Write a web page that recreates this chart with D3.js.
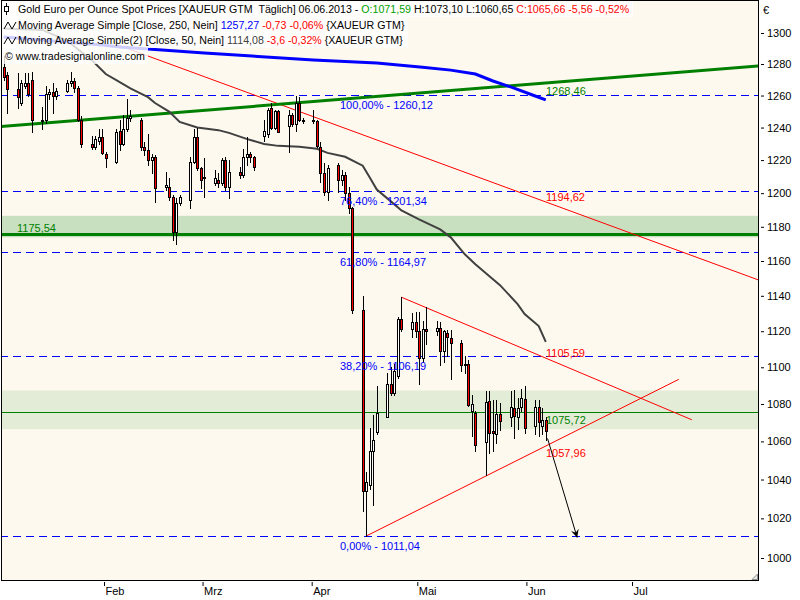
<!DOCTYPE html>
<html>
<head>
<meta charset="utf-8">
<title>Gold Euro per Ounce</title>
<script src="https://cdn.jsdelivr.net/npm/d3@7"></script>
<style>
    body { margin: 0; background: #ffffff; }
    text { font-family: "Liberation Sans", Arial, sans-serif; font-size: 11px; }
</style>
</head>
<body>
<div id="canvas"></div>
<script>
"use strict"

/* Daily candles XAUEUR */
let dates = [
    "2013-01-03","2013-01-04","2013-01-07","2013-01-08","2013-01-09","2013-01-10","2013-01-11",
    "2013-01-14","2013-01-15","2013-01-16","2013-01-17","2013-01-18","2013-01-21","2013-01-22",
    "2013-01-23","2013-01-24","2013-01-25","2013-01-28","2013-01-29","2013-01-30","2013-01-31",
    "2013-02-01","2013-02-04","2013-02-05","2013-02-06","2013-02-07","2013-02-08","2013-02-11",
    "2013-02-12","2013-02-13","2013-02-14","2013-02-15","2013-02-18","2013-02-19","2013-02-20",
    "2013-02-21","2013-02-22","2013-02-25","2013-02-26","2013-02-27","2013-02-28",
    "2013-03-01","2013-03-04","2013-03-05","2013-03-06","2013-03-07","2013-03-08","2013-03-11",
    "2013-03-12","2013-03-13","2013-03-14","2013-03-15","2013-03-18","2013-03-19","2013-03-20",
    "2013-03-21","2013-03-22","2013-03-25","2013-03-26","2013-03-27","2013-03-28","2013-03-29",
    "2013-04-01","2013-04-02","2013-04-03","2013-04-04","2013-04-05","2013-04-08","2013-04-09",
    "2013-04-10","2013-04-11","2013-04-12","2013-04-15","2013-04-16","2013-04-17","2013-04-18",
    "2013-04-19","2013-04-22","2013-04-23","2013-04-24","2013-04-25","2013-04-26","2013-04-29",
    "2013-04-30","2013-05-01","2013-05-02","2013-05-03","2013-05-06","2013-05-07","2013-05-08",
    "2013-05-09","2013-05-10","2013-05-13","2013-05-14","2013-05-15","2013-05-16","2013-05-17",
    "2013-05-20","2013-05-21","2013-05-22","2013-05-23","2013-05-24","2013-05-27","2013-05-28",
    "2013-05-29","2013-05-30","2013-05-31","2013-06-03","2013-06-04","2013-06-05","2013-06-06"
];
let opens = [
    1278,1273,1264,1255,1266,1268,1270, 1244,1245,1261,1262,1260,1263,1268,
    1269,1265,1245,1230,1228,1232,1234, 1224,1219,1238,1230,1239,1246,1245,
    1228,1226,1220,1222,1204,1204,1198, 1177,1194,1196,1219,1234,1215,
    1209,1206,1208,1206,1220,1204,1213, 1211,1222,1224,1222,1235,1236,1252,
    1240,1250,1241,1248,1242,1255,1245, 1245,1244,1228,1212,1201,1217,1208,
    1211,1200,1191,1132,1034,1037,1055, 1065,1073,1091,1086,1095,1127,1121,
    1125,1120,1105,1121.5,1120,1122,1109, 1119,1116,1113.5,1101,1102,1076,1075,
    1059.6,1081.6,1065.4,1064,1074.6,1073,1078, 1073,1078.3,1082.5,1068,1078.5,1068,1071.59
];
let highs = [
    1285,1275,1274,1270,1274,1274,1275, 1253,1266,1264,1268,1265,1270,1275,
    1271,1266,1247,1235,1235,1239,1239, 1225,1239,1245,1248,1258,1251,1246,
    1231,1236,1224,1223,1213,1209,1199, 1197,1199,1222,1239,1240,1215.5,
    1221,1214,1212,1221,1222,1220,1216, 1227,1234,1225,1222.5,1245,1252,1255,
    1251,1251,1251,1249,1260,1259,1246, 1251,1245,1231,1218,1217,1218,1214,
    1213,1204,1192,1140,1044,1067,1074, 1090,1097,1100,1102,1128,1139.2,1130,
    1131,1131,1126,1133.5,1126,1125,1120.5, 1120.5,1120.5,1115,1106,1104,1085,1076,
    1087.3,1087.3,1082,1082,1080.5,1087,1087.7, 1083.5,1088,1089.5,1082,1082,1078,1073.10
];
let lows = [
    1270,1249,1252,1254,1265,1260,1237, 1239,1243,1258,1249,1258,1262,1266,
    1262,1244,1228,1227,1227,1230,1224, 1216,1218,1226,1229,1238,1244,1226,
    1223,1217,1212,1195,1202,1196,1172, 1170,1193,1191,1218,1214,1203,
    1198,1205,1204,1205,1202,1197,1209, 1210,1217,1219,1214,1232,1234,1239,
    1239,1237,1225,1241,1238,1244,1243, 1243,1228,1207,1199,1196,1201,1205,
    1196,1188,1130,1024,1011.04,1035,1027, 1064,1073,1085,1085,1094,1120,1117,
    1117,1091,1103,1113,1118,1101,1103, 1106,1093.5,1098,1097,1079,1063,1055,
    1042.4,1053.7,1055,1059,1066,1068,1062, 1066.5,1076,1064.5,1064,1063,1064,1060.65
];
let closes = [
    1272,1264,1259,1268,1268,1261,1245, 1245,1261,1262,1260,1263,1268,1269,
    1265,1245,1230,1228,1233,1234,1224.5, 1221,1237,1230,1239,1246,1247,1228,
    1226,1220,1222,1203,1205,1198,1177, 1194,1198,1219,1234,1215,1208,
    1209.5,1209,1206,1220,1204,1213,1211, 1222,1224,1222,1216,1238,1251,1240,
    1250,1237.5,1248,1242,1255,1245,1244.5, 1244,1228.5,1212,1201,1215,1208,1211,
    1200,1191,1132,1034,1038.5,1055,1061, 1075,1091,1086,1098,1127,1121,1125,
    1120,1105,1121,1120,1122,1109,1120, 1116.5,1113.5,1101,1102,1079.5,1080,1058,
    1081,1064.5,1064.2,1074.6,1071,1078.3,1073.3, 1078,1083,1067,1078.5,1070.4,1071.22,1065.66
];

/* Moving Average Simple 250 (blue) and 50 (grey) */
let ma250Dates = ["2013-01-03","2013-01-31","2013-02-05","2013-03-01","2013-04-01","2013-04-19",
    "2013-05-02","2013-05-10","2013-05-17","2013-05-22","2013-05-28","2013-06-03","2013-06-06"];
let ma250Values = [1297.4,1292.2,1290.9,1287.1,1282.5,1280.6,1278,1276.1,1273.6,1269.2,1264.7,1259.7,1257.27];

let ma50Dates = ["2013-01-03","2013-01-14","2013-01-21","2013-01-28","2013-02-01","2013-02-04",
    "2013-02-08","2013-02-13","2013-02-15","2013-02-19","2013-02-22","2013-02-27","2013-03-05",
    "2013-03-08","2013-03-13","2013-03-18","2013-03-22","2013-03-28","2013-04-02","2013-04-05",
    "2013-04-10","2013-04-15","2013-04-17","2013-04-19","2013-04-24","2013-04-26","2013-05-01",
    "2013-05-07","2013-05-10","2013-05-14","2013-05-17","2013-05-21","2013-05-24","2013-05-29",
    "2013-05-31","2013-06-04","2013-06-06"];
let ma50Values = [1303,1302,1295,1282.5,1273.6,1269.8,1264.5,1259,1255.3,1249.9,1243.5,1240,1238.4,
    1236.7,1233,1229.9,1228.7,1228.1,1226.9,1224.4,1222,1216.6,1209.4,1202.2,1193.3,1189.7,1184.4,
    1178.5,1173.8,1163.9,1158.1,1151.2,1146.1,1135.3,1129.7,1122.9,1114.08];

/* Fibonacci retracement 1011,04 -> 1260,12 */
let fibLevels = [1260.12, 1201.34, 1164.97, 1106.19, 1011.04];
let fibNames = ["100,00%", "76,40%", "61,80%", "38,20%", "0,00%"];

/* Horizontal zones with their centre lines */
let zoneLows = [1173.8, 1066.5];
let zoneHighs = [1186.5, 1087.3];
let zoneLines = [1175.54, 1075.72];

/* Trend lines: [date, price] pairs */
let greenTrend = [["2013-01-02 00:00", 1240.5], ["2013-08-06 00:00", 1278.8]];
let redTrend = [["2013-02-05 00:00", 1292.2], ["2013-08-06 00:00", 1149.0]];
let triangleTop = [["2013-04-26 12:00", 1139.2], ["2013-07-18 00:00", 1071.5]];
let triangleBottom = [["2013-04-16 12:00", 1011.04], ["2013-07-14 07:00", 1093.4]];
let arrowLine = [["2013-06-07 00:00", 1061.6], ["2013-06-15 10:00", 1010.3]];

/* Values printed at the end of the lines */
let endValues = [1268.46, 1194.62, 1105.59, 1075.72, 1057.96];

/* Axes */
let yTickValues = [1000,1020,1040,1060,1080,1100,1120,1140,1160,1180,1200,1220,1240,1260,1280,1300];
let monthDates = ["2013-02-01","2013-03-01","2013-04-01","2013-05-01","2013-06-01","2013-07-01"];
let monthNames = ["Feb", "Mrz", "Apr", "Mai", "Jun", "Jul"];


let svgWidth = 800;
let svgHeight = 600;
let plotRight = 758;
let plotBottom = 580;

let colRed = "#ff0000";
let colBlue = "#0000ff";
let colGreen = "#008000";

let parseDay = d3.timeParse("%Y-%m-%d");
let parseTime = d3.timeParse("%Y-%m-%d %H:%M");

let locale = d3.formatLocale({decimal: ",", thousands: ".", grouping: [3], currency: ["", ""], minus: "-"});
let fmt2 = locale.format(".2f");

let xScale = d3.scaleTime()
    .domain([parseTime("2013-01-02 11:00"), parseTime("2013-08-05 19:00")])
    .range([0, plotRight]);

// price axis is logarithmic
let yScale = d3.scaleLog()
    .domain([1000, 1300])
    .range([558, 33]);

function dayCenter(s) {
    return xScale(d3.timeHour.offset(parseDay(s), 12));
}

let svg = d3.select("#canvas")
    .append("svg")
    .attr("width", svgWidth)
    .attr("height", svgHeight);

svg.append("rect")
    .attr("width", svgWidth)
    .attr("height", svgHeight)
    .attr("fill", "#ffffff");

svg.append("rect")
    .attr("x", 1).attr("y", 1)
    .attr("width", plotRight - 1).attr("height", plotBottom - 1)
    .attr("fill", "#fdf9ee");

let defs = svg.append("defs");
defs.append("clipPath").attr("id", "plotClip")
    .append("rect")
    .attr("x", 1).attr("y", 1)
    .attr("width", plotRight - 1).attr("height", plotBottom - 1);

defs.append("marker")
    .attr("id", "arrowHead")
    .attr("markerUnits", "userSpaceOnUse")
    .attr("markerWidth", 10).attr("markerHeight", 10)
    .attr("refX", 8).attr("refY", 4)
    .attr("orient", "auto")
    .append("path")
    .attr("d", "M0,0 L8,4 L0,8 L3,4 Z")
    .attr("fill", "#000000");

let g = svg.append("g").attr("clip-path", "url(#plotClip)");

// zones
for (let i = 0; i < zoneLows.length; i++) {
    let yTop = yScale(zoneHighs[i]);
    let yBot = yScale(zoneLows[i]);
    g.append("rect")
        .attr("x", 0).attr("width", plotRight)
        .attr("y", yTop).attr("height", yBot - yTop)
        .attr("fill", i === 0 ? "#c9e0c0" : "#e2ecd6");
}

// fibonacci dashed lines
for (let i = 0; i < fibLevels.length; i++) {
    let yy = Math.round(yScale(fibLevels[i])) + 0.5;
    g.append("line")
        .attr("x1", 0).attr("x2", plotRight)
        .attr("y1", yy).attr("y2", yy)
        .attr("stroke", colBlue)
        .attr("stroke-dasharray", "8,5")
        .attr("stroke-width", 1)
        .attr("shape-rendering", "crispEdges");
}

// zone centre lines
for (let i = 0; i < zoneLines.length; i++) {
    let yy = Math.round(yScale(zoneLines[i])) + 0.5;
    g.append("line")
        .attr("x1", 0).attr("x2", plotRight)
        .attr("y1", yy).attr("y2", yy)
        .attr("stroke", colGreen)
        .attr("stroke-width", i === 0 ? 3 : 1.2);
}

function drawSegment(pts, color, width) {
    return g.append("line")
        .attr("x1", xScale(parseTime(pts[0][0]))).attr("y1", yScale(pts[0][1]))
        .attr("x2", xScale(parseTime(pts[1][0]))).attr("y2", yScale(pts[1][1]))
        .attr("stroke", color)
        .attr("stroke-width", width);
}

drawSegment(redTrend, colRed, 1);
drawSegment(triangleTop, colRed, 1);
drawSegment(triangleBottom, colRed, 1);
drawSegment(greenTrend, colGreen, 3);

// moving averages
let maLine = d3.line()
    .x(function(d) { return dayCenter(d[0]); })
    .y(function(d) { return yScale(d[1]); });

g.append("path")
    .attr("d", maLine(d3.zip(ma50Dates, ma50Values)))
    .attr("fill", "none")
    .attr("stroke", "#404040")
    .attr("stroke-width", 2);

g.append("path")
    .attr("d", maLine(d3.zip(ma250Dates, ma250Values)))
    .attr("fill", "none")
    .attr("stroke", "#0000ff")
    .attr("stroke-width", 3);

// candles
let candles = g.append("g").attr("shape-rendering", "crispEdges");
for (let i = 0; i < dates.length; i++) {
    let xc = Math.round(dayCenter(dates[i]));
    let yHigh = Math.round(yScale(highs[i]));
    let yLow = Math.round(yScale(lows[i]));
    let yTop = Math.round(yScale(Math.max(opens[i], closes[i])));
    let yBot = Math.round(yScale(Math.min(opens[i], closes[i])));
    let down = closes[i] < opens[i];

    candles.append("line")
        .attr("x1", xc + 0.5).attr("x2", xc + 0.5)
        .attr("y1", yHigh).attr("y2", yLow + 1)
        .attr("stroke", "#000000");

    candles.append("rect")
        .attr("x", xc - 0.5)
        .attr("y", yTop + 0.5)
        .attr("width", 2)
        .attr("height", Math.max(1, yBot - yTop))
        .attr("fill", down ? colRed : "#ffffff")
        .attr("stroke", "#000000");
}

// arrow
drawSegment(arrowLine, "#000000", 1).attr("marker-end", "url(#arrowHead)");

// fibonacci labels
for (let i = 0; i < fibLevels.length; i++) {
    g.append("text")
        .attr("x", 340)
        .attr("y", yScale(fibLevels[i]) + 14)
        .attr("fill", colBlue)
        .text(fibNames[i] + " - " + fmt2(fibLevels[i]));
}

g.append("text")
    .attr("x", 17)
    .attr("y", yScale(zoneLines[0]) - 2)
    .attr("fill", colGreen)
    .text(fmt2(zoneLines[0]));

// values at the end of the lines
let endColors = [colGreen, colRed, colRed, colGreen, colRed];
let endOffsets = [13, -1, 0, 12, 12];
for (let i = 0; i < endValues.length; i++) {
    g.append("text")
        .attr("x", 546)
        .attr("y", yScale(endValues[i]) + endOffsets[i])
        .attr("fill", endColors[i])
        .text(fmt2(endValues[i]));
}

// plot frame
svg.append("rect")
    .attr("x", 1.5).attr("y", 0.5)
    .attr("width", plotRight - 1).attr("height", plotBottom)
    .attr("fill", "none")
    .attr("stroke", "#000000");

// resize corner
svg.append("path")
    .attr("d", "M" + (plotRight - 6) + "," + (plotBottom - 0.5) + " L" + (plotRight - 0.5) + "," + (plotBottom - 6) +
        " L" + (plotRight - 0.5) + "," + (plotBottom - 0.5) + " Z")
    .attr("fill", "#e8e8e8")
    .attr("stroke", "#909090");

// right price axis
let yAxis = d3.axisRight(yScale)
    .tickValues(yTickValues)
    .tickFormat(d3.format("d"))
    .tickSize(3)
    .tickPadding(3);

let yAxisG = svg.append("g")
    .attr("transform", "translate(761, 0)")
    .call(yAxis);
yAxisG.select(".domain").remove();
yAxisG.selectAll("text").attr("fill", "#000000");

svg.append("text")
    .attr("x", 763).attr("y", 14)
    .text("€");

// bottom time axis
let xAxis = d3.axisBottom(xScale)
    .tickValues(monthDates.map(parseDay))
    .tickFormat(function(d, i) { return monthNames[i]; })
    .tickSize(4);

let xAxisG = svg.append("g")
    .attr("transform", "translate(0, " + (plotBottom + 2) + ")")
    .call(xAxis);
xAxisG.select(".domain").remove();
xAxisG.selectAll("text")
    .attr("text-anchor", "start")
    .attr("x", 1)
    .attr("y", 5)
    .attr("fill", "#000000");

// header with legend
let last = dates.length - 1;
let change = closes[last] - closes[last - 1];
let changePct = change / closes[last - 1] * 100;

let header = svg.append("g");
header.append("rect").attr("x", 2).attr("y", 1).attr("width", 631).attr("height", 16)
    .attr("fill", "#ffffff").attr("opacity", 0.8);
header.append("rect").attr("x", 2).attr("y", 17).attr("width", 406).attr("height", 31)
    .attr("fill", "#ffffff").attr("opacity", 0.8);
header.append("rect").attr("x", 2).attr("y", 48).attr("width", 146).attr("height", 16)
    .attr("fill", "#ffffff").attr("opacity", 0.8);

// squeeze a header line to the width it has in the original
function fitLine(textSel, x, y, width) {
    let natural = textSel.node().getComputedTextLength();
    textSel.attr("transform", "translate(" + x + "," + y + ") scale(" + (width / natural) + ",1)");
}

let line1 = header.append("text").style("white-space", "pre");
line1.append("tspan").attr("fill", "#000000")
    .text("Gold Euro per Ounce Spot Prices [XAUEUR GTM  Täglich] 06.06.2013 - ");
line1.append("tspan").attr("fill", "#00a000").text("O:" + fmt2(opens[last]) + " ");
line1.append("tspan").attr("fill", "#000000")
    .text("H:" + fmt2(highs[last]) + " L:" + fmt2(lows[last]) + " ");
line1.append("tspan").attr("fill", colRed)
    .text("C:" + fmt2(closes[last]) + " " + fmt2(change) + " " + fmt2(changePct) + "%");
fitLine(line1, 18, 13, 612);

let line2 = header.append("text").style("white-space", "pre");
line2.append("tspan").attr("fill", "#000000").text("Moving Average Simple [Close, 250, Nein] ");
line2.append("tspan").attr("fill", "#0000ff").text(fmt2(ma250Values[ma250Values.length - 1]) + " ");
line2.append("tspan").attr("fill", colRed).text("-0,73 -0,06% ");
line2.append("tspan").attr("fill", "#000000").text("{XAUEUR GTM}");
fitLine(line2, 18, 29, 387);

let line3 = header.append("text").style("white-space", "pre");
line3.append("tspan").attr("fill", "#000000").text("Moving Average Simple(2) [Close, 50, Nein] ");
line3.append("tspan").attr("fill", "#404040").text(fmt2(ma50Values[ma50Values.length - 1]) + " ");
line3.append("tspan").attr("fill", colRed).text("-3,6 -0,32% ");
line3.append("tspan").attr("fill", "#000000").text("{XAUEUR GTM}");
fitLine(line3, 18, 44, 385);

let line4 = header.append("text").text("© www.tradesignalonline.com");
fitLine(line4, 5, 60, 140);

// small legend icons
header.append("line").attr("x1", 6.5).attr("x2", 6.5).attr("y1", 3).attr("y2", 15)
    .attr("stroke", "#000000").attr("shape-rendering", "crispEdges");
header.append("rect").attr("x", 4.5).attr("y", 6.5).attr("width", 4).attr("height", 5)
    .attr("fill", "#ffffff").attr("stroke", "#000000").attr("shape-rendering", "crispEdges");

let iconY = [25, 40];
for (let i = 0; i < iconY.length; i++) {
    header.append("path")
        .attr("d", "M4," + (iconY[i] + 4) + " L8," + (iconY[i] - 3) + " L12," + (iconY[i] + 4) + " L16," + (iconY[i] - 3))
        .attr("fill", "none")
        .attr("stroke", "#000000")
        .attr("stroke-width", 1);
}
</script>
</body>
</html>
